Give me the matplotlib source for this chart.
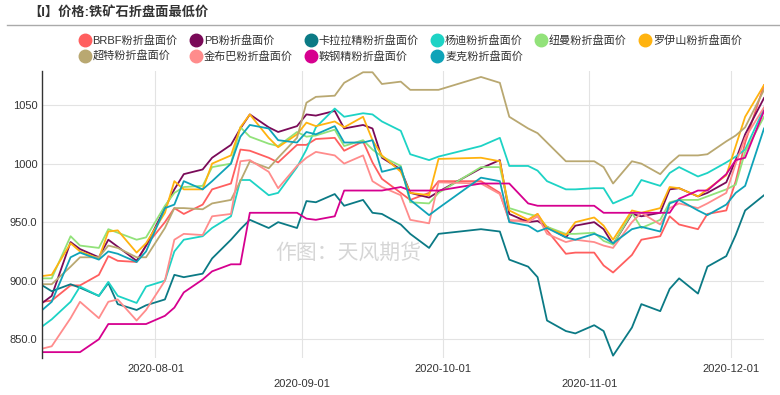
import matplotlib

matplotlib.use("Agg")

import matplotlib.pyplot as plt  # noqa: E402
import pandas as pd  # noqa: E402
from matplotlib.lines import Line2D  # noqa: E402

plt.rcParams["font.family"] = ["Liberation Sans", "Noto Sans CJK SC", "DejaVu Sans"]

# sampled trading days (Oct 1-8 holiday has no quotes)
dates = pd.to_datetime([
    "2020-07-08", "2020-07-10", "2020-07-14", "2020-07-16", "2020-07-20", "2020-07-22",
    "2020-07-24", "2020-07-28", "2020-07-30", "2020-08-03", "2020-08-05", "2020-08-07",
    "2020-08-11", "2020-08-13", "2020-08-17", "2020-08-19", "2020-08-21", "2020-08-25",
    "2020-08-27", "2020-08-31", "2020-09-02", "2020-09-04", "2020-09-08", "2020-09-10",
    "2020-09-14", "2020-09-16", "2020-09-18", "2020-09-22", "2020-09-24", "2020-09-28",
    "2020-09-30", "2020-10-09", "2020-10-13", "2020-10-15", "2020-10-19", "2020-10-21",
    "2020-10-23", "2020-10-27", "2020-10-29", "2020-11-02", "2020-11-04", "2020-11-06",
    "2020-11-10", "2020-11-12", "2020-11-16", "2020-11-18", "2020-11-20", "2020-11-24",
    "2020-11-26", "2020-11-30", "2020-12-02", "2020-12-04", "2020-12-08",
])

brbf = [882, 883, 896, 896, 905, 921, 917, 916, 930, 950, 962, 957,
        965, 978, 983, 1012, 1011, 1005, 1001, 1016, 1016, 1021, 1022, 1011,
        1019, 1001, 987, 975, 969, 975, 985, 985, 975, 951, 952, 957,
        943, 923, 924, 924, 913, 907, 922, 935, 938, 955, 948, 944,
        957, 960, 985, 1018, 1067]
pb = [881, 887, 933, 927, 920, 935, 929, 917, 930, 962, 978, 991,
      995, 1005, 1016, 1030, 1042, 1031, 1027, 1032, 1042, 1041, 1045, 1030,
      1033, 1030, 1005, 995, 975, 971, 976, 996, 1003, 957, 950, 951,
      946, 937, 947, 950, 944, 931, 957, 955, 958, 978, 979, 972,
      975, 984, 1003, 1025, 1056]
carajas = [896, 891, 897, 894, 887, 898, 880, 875, 879, 884, 905, 903,
           906, 919, 935, 944, 952, 945, 950, 945, 968, 967, 974, 964,
           969, 958, 957, 948, 940, 928, 940, 944, 942, 918, 912, 903,
           866, 857, 855, 862, 857, 836, 860, 880, 874, 893, 902, 889,
           912, 921, 939, 960, 973]
yandi = [861, 867, 882, 895, 887, 899, 887, 881, 895, 900, 925, 935,
         938, 945, 955, 986, 986, 973, 975, 997, 1012, 1031, 1047, 1040,
         1043, 1042, 1036, 1028, 1008, 1003, 1006, 1015, 1022, 998, 998, 994,
         985, 978, 978, 979, 979, 966, 973, 986, 981, 992, 997, 989,
         992, 1001, 1006, 1012, 1047]
newman = [902, 902, 938, 930, 928, 944, 941, 935, 937, 964, 975, 980,
          981, 997, 1000, 1031, 1023, 1017, 1015, 1027, 1023, 1024, 1029, 1015,
          1020, 1012, 1006, 998, 967, 966, 975, 997, 997, 962, 957, 955,
          946, 940, 940, 941, 934, 931, 958, 945, 952, 967, 969, 969,
          972, 978, 982, 1010, 1040]
roy_hill = [904, 905, 932, 925, 919, 942, 943, 924, 932, 958, 985, 978,
            978, 1000, 1007, 1031, 1042, 1022, 1014, 1025, 1035, 1032, 1036, 1031,
            1040, 1020, 1007, 993, 975, 973, 1004, 1005, 1002, 960, 952, 957,
            945, 939, 950, 954, 947, 935, 960, 958, 962, 980, 979, 972,
            978, 990, 1015, 1040, 1067]
super_special = [897, 897, 912, 920, 920, 930, 928, 920, 920, 945, 962, 962,
                 961, 966, 969, 985, 1002, 996, 1005, 1022, 1052, 1057, 1058, 1069,
                 1078, 1078, 1068, 1070, 1063, 1063, 1063, 1074, 1069, 1040, 1030, 1026,
                 1018, 1002, 1002, 1002, 997, 983, 1002, 1000, 991, 1000, 1007, 1007,
                 1008, 1019, 1024, 1031, 1063]
jimblebar = [842, 844, 868, 882, 868, 882, 884, 866, 875, 900, 935, 940,
             939, 955, 957, 1002, 1003, 993, 979, 998, 1005, 1010, 1007, 1000,
             1007, 985, 980, 973, 952, 949, 984, 983, 974, 952, 950, 955,
             940, 933, 935, 933, 930, 928, 950, 958, 948, 962, 966, 962,
             966, 975, 1000, 1022, 1048]
angang = [839, 839, 839, 839, 850, 863, 863, 863, 863, 870, 877, 890,
          901, 908, 914, 914, 958, 958, 958, 958, 953, 952, 955, 977,
          977, 977, 977, 980, 977, 977, 977, 983, 983, 983, 966, 964,
          964, 964, 964, 964, 958, 958, 958, 958, 958, 958, 970, 977,
          977, 991, 1003, 1005, 1045]
mac = [875, 882, 920, 924, 918, 925, 923, 916, 925, 962, 965, 985,
       978, 985, 1000, 1023, 1033, 1030, 1020, 1018, 1027, 1025, 1032, 1018,
       1018, 1020, 993, 997, 969, 956, 962, 988, 985, 950, 947, 942,
       945, 937, 935, 940, 937, 932, 944, 946, 942, 966, 969, 960,
       956, 965, 975, 981, 1030]

series = [
    ("BRBF粉折盘面价", brbf, "#ff5f5f"),
    ("PB粉折盘面价", pb, "#7a0a58"),
    ("卡拉拉精粉折盘面价", carajas, "#0b7a85"),
    ("杨迪粉折盘面价", yandi, "#1dd3c5"),
    ("纽曼粉折盘面价", newman, "#92e27a"),
    ("罗伊山粉折盘面价", roy_hill, "#ffb30f"),
    ("超特粉折盘面价", super_special, "#b9a871"),
    ("金布巴粉折盘面价", jimblebar, "#ff8c8c"),
    ("鞍钢精粉折盘面价", angang, "#d6008f"),
    ("麦克粉折盘面价", mac, "#0fa3b8"),
]

yticks = [850, 900, 950, 1000, 1050]
ytick_labels = ["850.0", "900.0", "950.0", "1000", "1050"]
xticks = pd.to_datetime(["2020-08-01", "2020-09-01", "2020-10-01", "2020-11-01", "2020-12-01"])

fig = plt.figure(figsize=(7.8, 3.95), dpi=100)
fig.patch.set_facecolor("white")

fig.text(0.036, 0.968, "【I】价格:铁矿石折盘面最低价", fontsize=9.5, fontweight="bold",
         color="#333333", va="center", ha="left")
fig.add_artist(Line2D([0.009, 1.0], [0.937, 0.937], transform=fig.transFigure,
                      color="#aaaaaa", linewidth=1.0))

ax = fig.add_axes((0.0542, 0.0937, 0.9253, 0.7263))
for label, vals, color in series:
    ax.plot(dates, vals, color=color, linewidth=1.3, label=label)

ax.set_xlim(dates[0], dates[-1])
ax.set_ylim(834, 1079)
ax.set_yticks(yticks)
ax.set_yticklabels(ytick_labels)
ax.set_xticks(xticks)
ax.set_xticklabels([d.strftime("%Y-%m-%d") for d in xticks])
# staggered date labels
for i, tick in enumerate(ax.xaxis.get_major_ticks()):
    tick.set_pad(4 if i % 2 == 0 else 15)

ax.grid(color="#e3e3e3", linewidth=0.8)
ax.set_axisbelow(True)
ax.tick_params(length=0, labelsize=8, colors="#333333")
for side in ("top", "right", "bottom"):
    ax.spines[side].set_visible(False)
ax.spines["left"].set_color("#333333")
ax.spines["left"].set_linewidth(1.0)

fig.text(0.446, 0.36, "作图：天风期货", fontsize=15, color="#d6d6d6",
         ha="center", va="center")

# legend flows row by row: reorder for matplotlib's column-major fill
order = [0, 6, 1, 7, 2, 8, 3, 9, 4, 5]
handles = [Line2D([], [], marker="o", linestyle="none", markersize=9,
                  markerfacecolor=series[i][2], markeredgecolor=series[i][2]) for i in order]
labels = [series[i][0] for i in order]
fig.legend(handles, labels, ncol=6, loc="center", bbox_to_anchor=(0.527, 0.878),
           frameon=False, fontsize=8, handlelength=0.8, handletextpad=0.3,
           columnspacing=1.25, labelspacing=0.45, borderpad=0.2, labelcolor="#333333")

fig.savefig("out.png", dpi=100)
